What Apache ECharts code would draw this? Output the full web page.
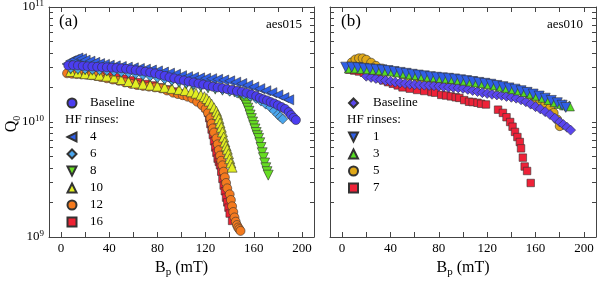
<!DOCTYPE html>
<html><head><meta charset="utf-8">
<script src="https://cdn.jsdelivr.net/npm/echarts@6/dist/echarts.min.js"></script>
<style>html,body{margin:0;padding:0;background:#fff}#c{width:597px;height:284px}</style>
</head><body><div id="c"></div>
<script>
// ---- tick labels ----
const xTickValues = [0,20,40,60,80,100,120,140,160,180,200];
const xLabelValues = [0,40,80,120,160,200];
const yMajorValues = [1e9,1e10,1e11];
const yMinorValues = [2e9,3e9,4e9,5e9,6e9,7e9,8e9,9e9,2e10,3e10,4e10,5e10,6e10,7e10,8e10,9e10];

// ---- panel (a) aes015 ----
const aNames = ['Baseline','4','6','8','10','12','16'];
const aBaseline = [[6,3.1e10],[10,3.12e10],[14,3.1e10],[18,3.07e10],[22,3.05e10],[26,3.04e10],[30,3.02e10],[34,3.0e10],[38,2.99e10],[42,2.97e10],[46,2.95e10],[50,2.93e10],[54,2.9e10],[58,2.86e10],[62,2.82e10],[66,2.78e10],[70,2.74e10],[74,2.7e10],[78,2.65e10],[82,2.58e10],[86,2.52e10],[90,2.45e10],[94,2.4e10],[98,2.34e10],[102,2.3e10],[106,2.25e10],[110,2.21e10],[114,2.16e10],[118,2.12e10],[122,2.08e10],[126,2.03e10],[130,2.0e10],[134,1.97e10],[138,1.93e10],[142,1.9e10],[146,1.86e10],[150,1.83e10],[154,1.79e10],[158,1.74e10],[162,1.68e10],[165,1.62e10],[168,1.58e10],[171,1.54e10],[174,1.49e10],[177,1.45e10],[180,1.4e10],[183,1.35e10],[186,1.3e10],[189,1.22e10],[191,1.15e10],[193,1.09e10],[195,1.04e10]];
const aRinse4 = [[5,3.2e10],[8,3.4e10],[11,3.5e10],[14,3.6e10],[17,3.55e10],[20,3.45e10],[24,3.38e10],[28,3.3e10],[32,3.22e10],[36,3.17e10],[40,3.12e10],[45,3.08e10],[50,3.04e10],[55,3.0e10],[60,2.96e10],[65,2.92e10],[70,2.88e10],[75,2.83e10],[80,2.78e10],[85,2.72e10],[90,2.66e10],[95,2.6e10],[100,2.53e10],[105,2.48e10],[110,2.45e10],[115,2.42e10],[120,2.4e10],[125,2.38e10],[130,2.35e10],[135,2.32e10],[140,2.28e10],[145,2.22e10],[150,2.16e10],[155,2.09e10],[160,2.02e10],[165,1.95e10],[170,1.87e10],[175,1.8e10],[180,1.72e10],[185,1.63e10],[189,1.56e10]];
const aRinse6 = [[8,2.95e10],[14,2.92e10],[20,2.9e10],[26,2.88e10],[32,2.85e10],[38,2.82e10],[44,2.78e10],[50,2.74e10],[56,2.7e10],[62,2.64e10],[68,2.58e10],[74,2.52e10],[80,2.45e10],[86,2.38e10],[92,2.32e10],[98,2.26e10],[104,2.2e10],[110,2.14e10],[116,2.09e10],[122,2.04e10],[128,1.98e10],[134,1.92e10],[140,1.86e10],[146,1.8e10],[152,1.74e10],[157,1.68e10],[162,1.6e10],[166,1.52e10],[170,1.43e10],[174,1.34e10],[177,1.25e10],[180,1.16e10],[182,1.11e10],[184,1.06e10]];
const aRinse8 = [[8,2.88e10],[14,2.86e10],[20,2.84e10],[26,2.82e10],[32,2.8e10],[38,2.77e10],[44,2.74e10],[50,2.7e10],[56,2.65e10],[62,2.6e10],[68,2.54e10],[74,2.48e10],[80,2.4e10],[86,2.33e10],[92,2.26e10],[98,2.2e10],[104,2.14e10],[110,2.08e10],[116,2.03e10],[122,1.98e10],[128,1.93e10],[134,1.89e10],[140,1.85e10],[144,1.82e10],[147,1.78e10],[149,1.72e10],[151,1.63e10],[152,1.55e10],[153,1.47e10],[154,1.4e10],[155,1.32e10],[156,1.24e10],[157,1.15e10],[158,1.07e10],[159,1.0e10],[160,9.3e9],[161,8.7e9],[162,8.1e9],[163,7.6e9],[164,7.2e9],[165,6.6e9],[166,6.0e9],[167,5.4e9],[168,4.9e9],[169,4.4e9],[170,4.0e9],[171,3.7e9],[172,3.45e9]];
const aRinse10 = [[8,2.75e10],[14,2.68e10],[20,2.63e10],[26,2.6e10],[32,2.55e10],[38,2.5e10],[44,2.42e10],[50,2.34e10],[56,2.25e10],[62,2.18e10],[68,2.13e10],[74,2.09e10],[80,2.05e10],[86,2.0e10],[92,1.96e10],[98,1.92e10],[103,1.88e10],[108,1.83e10],[112,1.78e10],[116,1.72e10],[119,1.66e10],[121,1.6e10],[123,1.52e10],[125,1.43e10],[127,1.33e10],[129,1.24e10],[130,1.16e10],[131,1.07e10],[132,9.8e9],[133,9.0e9],[134,8.2e9],[135,7.4e9],[136,6.7e9],[137,6.2e9],[138,5.8e9],[139,5.3e9],[140,4.8e9],[141,4.4e9],[142,4.05e9]];
const aRinse12 = [[5,2.65e10],[9,2.63e10],[13,2.61e10],[17,2.6e10],[21,2.58e10],[25,2.55e10],[29,2.51e10],[33,2.46e10],[38,2.4e10],[43,2.34e10],[48,2.28e10],[53,2.21e10],[58,2.15e10],[63,2.1e10],[68,2.06e10],[73,2.03e10],[78,2.0e10],[83,1.96e10],[88,1.88e10],[93,1.8e10],[97,1.75e10],[101,1.71e10],[105,1.66e10],[109,1.6e10],[113,1.5e10],[117,1.4e10],[120,1.3e10],[122,1.2e10],[124,1.08e10],[125,9.7e9],[126,8.8e9],[127,8.1e9],[129,7.2e9],[130,6.4e9],[131,5.7e9],[132,5.1e9],[133,4.6e9],[134,4.2e9],[135,3.7e9],[136,3.3e9],[137,2.95e9],[138,2.65e9],[140,2.35e9],[141,2.1e9],[142,1.85e9],[143,1.65e9],[144,1.48e9],[145,1.36e9],[146,1.27e9],[147,1.21e9],[148,1.17e9],[149,1.13e9]];
const aRinse16 = [[8,2.8e10],[13,2.78e10],[18,2.76e10],[23,2.8e10],[28,2.72e10],[34,2.64e10],[40,2.55e10],[46,2.46e10],[52,2.38e10],[58,2.3e10],[64,2.22e10],[70,2.14e10],[76,2.08e10],[82,2.0e10],[88,1.92e10],[94,1.84e10],[100,1.77e10],[105,1.7e10],[110,1.62e10],[114,1.53e10],[117,1.44e10],[120,1.32e10],[122,1.2e10],[123,1.08e10],[124,9.6e9],[125,8.6e9],[126,7.7e9],[127,6.8e9],[128,6.0e9],[129,5.4e9],[130,4.8e9],[131,4.5e9],[132,4.2e9],[133,3.7e9],[134,3.2e9],[135,2.8e9],[136,2.5e9],[137,2.2e9],[138,2.0e9],[139,1.8e9],[140,1.6e9],[142,1.38e9]];

// ---- panel (b) aes010 ----
const bNames = ['Baseline ','1','3','5','7'];
const bBaseline = [[20,2.5e10],[24,2.44e10],[28,2.39e10],[32,2.34e10],[36,2.3e10],[40,2.26e10],[44,2.22e10],[48,2.19e10],[52,2.16e10],[56,2.13e10],[60,2.11e10],[64,2.1e10],[68,2.09e10],[72,2.08e10],[76,2.07e10],[80,2.05e10],[84,2.03e10],[88,2.01e10],[92,2.0e10],[96,1.98e10],[100,1.96e10],[104,1.92e10],[108,1.88e10],[112,1.84e10],[116,1.8e10],[120,1.77e10],[124,1.74e10],[128,1.72e10],[132,1.7e10],[136,1.67e10],[140,1.64e10],[144,1.61e10],[148,1.56e10],[152,1.5e10],[156,1.43e10],[160,1.36e10],[164,1.3e10],[168,1.23e10],[172,1.16e10],[176,1.08e10],[180,1.0e10],[183,9.5e9],[186,9.0e9],[189,8.5e9]];
const bRinse1 = [[3,3.0e10],[8,3.0e10],[13,2.97e10],[18,2.93e10],[23,2.9e10],[28,2.87e10],[33,2.84e10],[38,2.8e10],[43,2.75e10],[48,2.7e10],[53,2.65e10],[58,2.6e10],[63,2.56e10],[68,2.52e10],[73,2.48e10],[78,2.45e10],[83,2.42e10],[88,2.4e10],[93,2.37e10],[98,2.33e10],[103,2.29e10],[108,2.25e10],[113,2.21e10],[118,2.17e10],[123,2.13e10],[128,2.08e10],[133,2.03e10],[138,1.98e10],[143,1.93e10],[148,1.87e10],[153,1.81e10],[158,1.75e10],[163,1.68e10],[168,1.61e10],[173,1.54e10],[178,1.47e10],[182,1.4e10],[185,1.34e10]];
const bRinse3 = [[6,2.95e10],[11,2.95e10],[16,2.92e10],[21,2.9e10],[26,2.87e10],[31,2.84e10],[36,2.81e10],[41,2.77e10],[46,2.72e10],[51,2.67e10],[56,2.62e10],[61,2.58e10],[66,2.54e10],[71,2.5e10],[76,2.47e10],[81,2.44e10],[86,2.41e10],[91,2.39e10],[96,2.35e10],[101,2.31e10],[106,2.27e10],[111,2.23e10],[116,2.19e10],[121,2.15e10],[126,2.1e10],[131,2.05e10],[136,2.0e10],[141,1.95e10],[146,1.9e10],[151,1.84e10],[156,1.78e10],[161,1.71e10],[166,1.64e10],[171,1.57e10],[176,1.5e10],[180,1.45e10],[184,1.41e10],[188,1.38e10]];
const bRinse5 = [[8,3.3e10],[11,3.5e10],[14,3.58e10],[17,3.58e10],[20,3.48e10],[24,3.28e10],[28,3.08e10],[33,2.92e10],[38,2.8e10],[44,2.7e10],[50,2.6e10],[56,2.5e10],[62,2.42e10],[68,2.35e10],[74,2.3e10],[80,2.27e10],[86,2.28e10],[92,2.3e10],[98,2.3e10],[104,2.28e10],[110,2.25e10],[116,2.2e10],[122,2.15e10],[128,2.08e10],[134,2.02e10],[140,1.96e10],[146,1.9e10],[152,1.82e10],[156,1.72e10],[160,1.62e10],[164,1.52e10],[168,1.42e10],[172,1.32e10],[175,1.2e10],[178,1.05e10],[180,9.2e9]];
const bRinse7 = [[6,2.85e10],[10,2.8e10],[14,2.75e10],[18,2.68e10],[22,2.6e10],[26,2.5e10],[30,2.4e10],[34,2.3e10],[38,2.22e10],[42,2.15e10],[46,2.08e10],[50,2.0e10],[56,1.95e10],[62,1.9e10],[68,1.86e10],[74,1.82e10],[77,1.8e10],[82,1.72e10],[86,1.7e10],[90,1.67e10],[94,1.64e10],[97,1.62e10],[101,1.55e10],[105,1.5e10],[108,1.49e10],[112,1.47e10],[115,1.44e10],[119,1.42e10],[129,1.28e10],[133,1.2e10],[136,1.1e10],[139,1.0e10],[141,9.1e9],[143,8.2e9],[145,7.4e9],[147,6.7e9],[148,5.9e9],[149.5,4.9e9],[151,4.1e9],[153,3.75e9],[156,2.95e9]];

const FONT = '"Liberation Serif","Times New Roman",serif';
const AX = '#444';
const chart = echarts.init(document.getElementById('c'), null, {renderer:'canvas'});

const grids = [
  {left:49, top:7, width:265, height:230},
  {left:330, top:7, width:266, height:230}
];

function xAxes(gi){
  const common = {gridIndex:gi, type:'value', min:-10, max:210,
    axisLine:{show:true, onZero:false, lineStyle:{color:AX, width:1}},
    axisTick:{show:true, inside:true, length:5, customValues:xTickValues, lineStyle:{color:AX}},
    splitLine:{show:false}};
  return [
    Object.assign({}, common, {position:'bottom',
      axisLabel:{show:true, customValues:xLabelValues, margin:5, fontSize:13, fontFamily:FONT, color:'#000'},
      name:'{b|B}{s|p}{b| (mT)}', nameLocation:'middle', nameGap:20,
      nameTextStyle:{rich:{b:{fontSize:16, fontFamily:FONT, color:'#000', lineHeight:20},
                           s:{fontSize:11, fontFamily:FONT, color:'#000', lineHeight:11, verticalAlign:'bottom'}}}}),
    Object.assign({}, common, {position:'top', axisLabel:{show:false}})
  ];
}
const yTickAll = yMajorValues.concat(yMinorValues);
function yAxes(gi, withLabels){
  const common = {gridIndex:gi, type:'log', logBase:10, min:1e9, max:1e11, splitLine:{show:false},
    axisLine:{show:true, onZero:false, lineStyle:{color:AX, width:1}},
    axisTick:{show:true, inside:true, length:4, customValues:yTickAll, lineStyle:{color:AX}}};
  return [
    Object.assign({}, common, {position:'left',
      axisLabel:{show:withLabels, customValues:yMajorValues, margin:5,
        formatter:v => '{b|10}{s|' + Math.round(Math.log10(v)) + '}',
        rich:{b:{fontSize:13, fontFamily:FONT, color:'#000', lineHeight:16},
              s:{fontSize:9, fontFamily:FONT, color:'#000', lineHeight:9, verticalAlign:'top'}}}}),
    Object.assign({}, common, {position:'right', axisLabel:{show:false}})
  ];
}

function sc(name, data, symbol, color, size, rot, xi, yi){
  return {type:'scatter', name, data, symbol, symbolSize:size, symbolRotate:rot,
    xAxisIndex:xi, yAxisIndex:yi, animation:false, emphasis:{disabled:true},
    itemStyle:{color, borderColor:'#333', borderWidth:0.6, opacity:1}};
}

const series = [
  sc(aNames[6], aRinse16, 'rect', '#ee2233', 7.5, 0, 0, 0),
  sc(aNames[5], aRinse12, 'circle', '#f47a1e', 9, 0, 0, 0),
  sc(aNames[4], aRinse10, 'triangle', '#e2ee22', 10, 0, 0, 0),
  sc(aNames[3], aRinse8, 'triangle', '#66dd22', 10, 180, 0, 0),
  sc(aNames[2], aRinse6, 'diamond', '#4aa6ee', 10, 0, 0, 0),
  sc(aNames[1], aRinse4, 'triangle', '#2f5fe6', 10, 90, 0, 0),
  sc(aNames[0], aBaseline, 'circle', '#4b3df0', 9, 0, 0, 0),
  sc(bNames[4], bRinse7, 'rect', '#ee2238', 7.5, 0, 2, 2),
  sc(bNames[3], bRinse5, 'circle', '#e0a818', 9, 0, 2, 2),
  sc(bNames[0], bBaseline, 'diamond', '#5a46ee', 10, 0, 2, 2),
  sc(bNames[2], bRinse3, 'triangle', '#55dd22', 10, 0, 2, 2),
  sc(bNames[1], bRinse1, 'triangle', '#2f5fe6', 10, 180, 2, 2)
];

const LEFT_TRI = 'path://M0,5L10,0L10,10Z';
const DOWN_TRI = 'path://M0,0L10,0L5,10Z';
function legend(left, top, data, pad){
  return {left, top, data, orient:'vertical', padding:0, itemGap:0, itemWidth:9, itemHeight:9,
    selectedMode:false, formatter:n => n.trim(), symbolRotate:0,
    textStyle:{fontSize:13, fontFamily:FONT, color:'#000', lineHeight:17, padding:[0,0,0,pad]}};
}

const txt = (x, y, text, size, align) => ({type:'text', x, y,
  style:{text, font: size + 'px ' + FONT, fill:'#000', textAlign:align || 'left', textVerticalAlign:'middle'}});

chart.setOption({
  animation:false,
  backgroundColor:'#fff',
  grid: grids.map(g => Object.assign({containLabel:false, outerBoundsMode:'none'}, g)),
  xAxis: [...xAxes(0), ...xAxes(1)],
  yAxis: [...yAxes(0, true), ...yAxes(1, false)],
  legend: [
    legend(66.5, 94.5, [aNames[0]], 8.5),
    legend(66.5, 128.5, [{name:aNames[1], icon:LEFT_TRI}, aNames[2], {name:aNames[3], icon:DOWN_TRI}, aNames[4], aNames[5], aNames[6]], 8.5),
    legend(348, 94.5, [bNames[0]], 10),
    legend(348, 128.5, [{name:bNames[1], icon:DOWN_TRI}, bNames[2], bNames[3], bNames[4]], 10)
  ],
  graphic: [
    txt(59, 22, '(a)', 17),
    txt(302, 25, 'aes015', 13, 'right'),
    txt(341, 22, '(b)', 17),
    txt(583, 25, 'aes010', 13, 'right'),
    txt(65, 120, 'HF rinses:', 13),
    txt(347, 120, 'HF rinses:', 13),
    {type:'text', x:12, y:124, rotation:Math.PI/2,
      style:{text:'{q|Q}{s|0}', textAlign:'center', textVerticalAlign:'middle',
        rich:{q:{font:'16px ' + FONT, fill:'#000', lineHeight:20}, s:{font:'10px ' + FONT, fill:'#000', lineHeight:10, verticalAlign:'bottom'}}}}
  ],
  series
});
</script></body></html>
